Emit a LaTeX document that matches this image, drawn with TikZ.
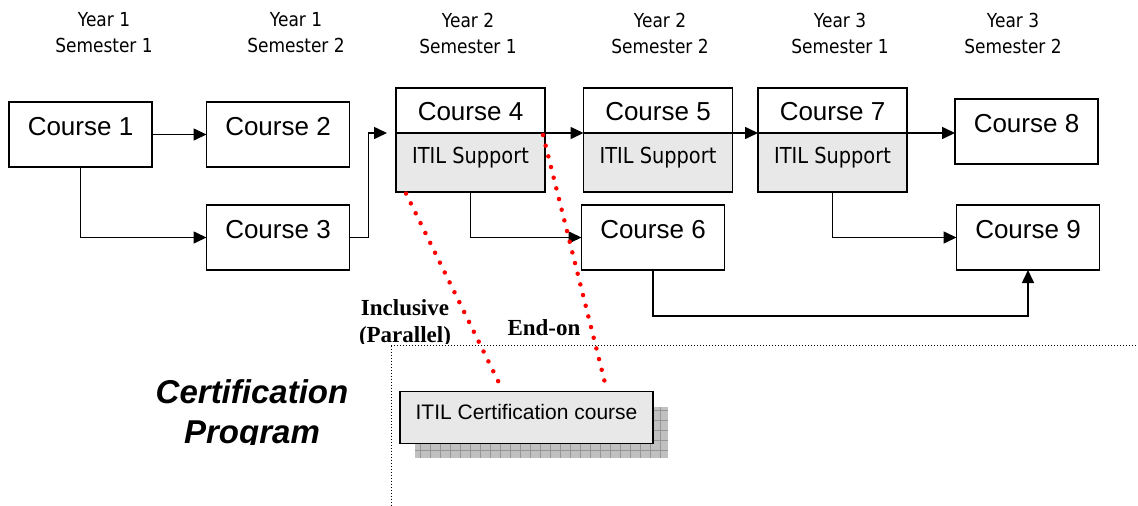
\documentclass[tikz,border=0pt]{standalone}
\usepackage{fontspec}
\setmainfont{Liberation Sans}
\newfontfamily\tahoma[FakeStretch=0.88]{DejaVu Sans}
\newfontfamily\timesbf{Liberation Serif}
\usetikzlibrary{positioning,arrows.meta,calc}
\definecolor{citil}{RGB}{232,232,232}
\definecolor{cshadow}{RGB}{192,192,192}
\definecolor{cgrid}{RGB}{150,150,150}

\begin{document}
\begin{tikzpicture}[
  x=1pt, y=-1pt,
  >={Triangle[length=13pt,width=12pt]},
  box/.style={rectangle, draw, line width=1.8pt, inner sep=0pt, outer sep=0pt},
  course/.style={box, minimum width=143pt, minimum height=65pt,
                 font=\fontsize{26}{30}\selectfont, text height=19pt, text depth=17pt},
  chead/.style={box, minimum width=149pt, minimum height=45pt,
                font=\fontsize{26}{30}\selectfont, text height=19pt, text depth=0pt},
  itil/.style={box, fill=citil, minimum width=149pt, minimum height=59pt,
               font=\tahoma\fontsize{22}{26}\selectfont, text height=16pt, text depth=15pt},
  certbox/.style={box, fill=citil, minimum width=253pt, minimum height=52pt,
                  font=\fontsize{21}{25}\selectfont, text height=15pt, text depth=11pt},
  sem/.style={font=\tahoma\fontsize{19.3}{26}\selectfont, align=center, inner sep=0pt},
  tag/.style={font=\timesbf\bfseries\fontsize{23}{27}\selectfont, align=center, inner sep=0pt},
  arr/.style={->, line width=1.6pt},
  link/.style={red, line width=4.5pt, line cap=round, dash pattern=on 0pt off 11pt},
  region/.style={line width=1pt, dash pattern=on 1pt off 2pt}
]
\useasboundingbox (0,0) rectangle (1138,506);

% ---------- semester headers ----------
\foreach \x/\yr/\sm [count=\i] in {104/1/1, 296/1/2, 468/2/1, 660/2/2, 840/3/1, 1013/3/2}
  \node[sem] (h\i) at (\x,33) {Year \yr\\Semester \sm};

% ---------- courses ----------
\node[course] (c1) at (80.5,134.5) {Course 1};
\node[course] (c2) at (278,134.5)  {Course 2};
\node[course] (c3) at (278,237.5)  {Course 3};

\node[chead] (c4) at (470.5,110.5) {Course 4};
\node[itil, below=0pt of c4] (s4) {ITIL Support};
\node[chead] (c5) at (658,110.5)   {Course 5};
\node[itil, below=0pt of c5] (s5) {ITIL Support};
\node[chead] (c7) at (832.5,110.5) {Course 7};
\node[itil, below=0pt of c7] (s7) {ITIL Support};

\node[course] (c6) at (653,237.5)    {Course 6};
\node[course] (c8) at (1026.5,131.5) {Course 8};
\node[course] (c9) at (1028,237.5)   {Course 9};

% ---------- prerequisites ----------
\draw[arr] (c1) -- (c2);
\draw[arr] (c1.south) |- (c3.west);
\draw[arr] (c3.east) -- ++(19,0) |- ($(s4.north west)+(-9,0)$);
\draw[arr] (s4.north east) -- (s5.north west);
\draw[arr] (s5.north east) -- (s7.north west);
\draw[arr] (s7.north east) -- (s7.north east -| c8.west);
\draw[arr] (s4.south) |- (c6.west);
\draw[arr] (s7.south) |- (c9.west);
\draw[arr] (c6.south) -- ++(0,46) -| (c9.south);

% ---------- certification program ----------
\begin{scope}
  \clip (330,280) rectangle (480,343.5);
  \node[tag] (incl) at (405,323.5) {Inclusive\\(Parallel)};
\end{scope}
\node[tag] (endon) at (544,328) {End-on};

\begin{scope}
  \clip (100,360) rectangle (390,444);
  \node[font=\bfseries\itshape\fontsize{33}{40}\selectfont, align=center, inner sep=0pt]
    (prog) at (252,415) {Certification\\Program};
\end{scope}

\draw[region] (391,345.5) rectangle (1150,520);

% shadow under the certification course
\fill[cshadow] (415,407) rectangle (668,458);
\draw[cgrid, line width=0.8pt, step=10pt] (415,407) grid (668,458);
\node[certbox] (cert) at (526.5,417.5) {ITIL Certification course};

\draw[link] ($(s4.south west)+(10,1.5)$) -- ($(cert.north west)+(101,-4.5)$);
\draw[link] ($(s4.north east)+(-2,2)$) -- ($(cert.north west)+(206,-4.5)$);

\end{tikzpicture}
\end{document}
